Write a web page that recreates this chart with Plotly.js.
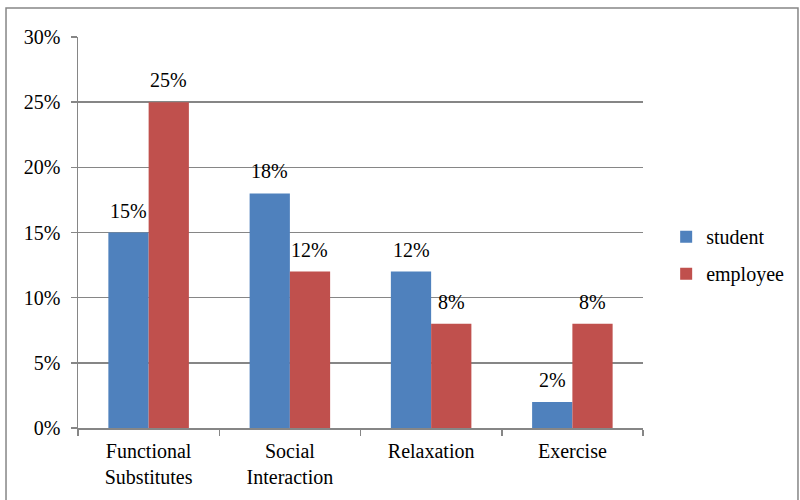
<!DOCTYPE html>
<html>
<head>
<meta charset="utf-8">
<script src="https://cdn.plot.ly/plotly-3.0.1.min.js"></script>
<style>html,body{margin:0;padding:0;background:#fff}#chart{width:800px;height:500px}</style>
</head>
<body>
<div id="chart"></div>
<script>
const categories = ["Functional<br>Substitutes", "Social<br>Interaction", "Relaxation", "Exercise"];
const studentValues = [0.15, 0.18, 0.12, 0.02];
const employeeValues = [0.25, 0.12, 0.08, 0.08];
const seriesNames = ["student", "employee"];
const yTickVals = [0, 0.05, 0.10, 0.15, 0.20, 0.25, 0.30];

const font = {family: "Liberation Serif, Times New Roman, serif", size: 20, color: "#000"};
const pct = v => Math.round(v * 100) + "%";

const traces = [
  {type: "bar", name: seriesNames[0], x: categories, y: studentValues,
   marker: {color: "#4F81BD"}, legendgroup: "a", hoverinfo: "none"},
  {type: "bar", name: seriesNames[1], x: categories, y: employeeValues,
   marker: {color: "#C0504D"}, legendgroup: "b", hoverinfo: "none"}
];

const annotations = [];
[[studentValues, -20], [employeeValues, 20]].forEach(([vals, dx]) => {
  vals.forEach((v, i) => annotations.push({
    x: categories[i], y: v, xref: "x", yref: "y", text: pct(v), showarrow: false,
    xshift: dx, yshift: 9, yanchor: "bottom", font: font
  }));
});

const layout = {
  width: 800, height: 500,
  margin: {l: 78, r: 157, t: 37, b: 72, autoexpand: false},
  paper_bgcolor: "#fff", plot_bgcolor: "#fff",
  font: font,
  barmode: "group", bargap: 0.43, bargroupgap: 0,
  xaxis: {showline: true, linecolor: "#868686", linewidth: 1.5, ticks: "outside", tickson: "boundaries",
          ticklen: 6, tickcolor: "#868686", tickwidth: 1.5, tickfont: font, showgrid: false,
          ticklabelstandoff: 4},
  yaxis: {range: [0, 0.30], tickvals: yTickVals, tickformat: ".0%", showline: true, linecolor: "#868686",
          linewidth: 1.5, ticks: "outside", ticklen: 6, tickcolor: "#868686", tickwidth: 1.5,
          gridcolor: "#868686", gridwidth: 1.5, zeroline: false, tickfont: font, ticklabelstandoff: 6},
  legend: {x: 1.041, xanchor: "left", y: 0.442, yanchor: "middle", font: font,
           traceorder: "grouped", tracegroupgap: 8, itemwidth: 30, bgcolor: "rgba(0,0,0,0)"},
  annotations: annotations,
  shapes: [{type: "rect", xref: "paper", yref: "paper", x0: -0.1274, x1: 1.2743, y0: -0.2, y1: 1.0742,
            line: {color: "#868686", width: 1.5}}]
};

Plotly.newPlot("chart", traces, layout, {staticPlot: true});
</script>
</body>
</html>
